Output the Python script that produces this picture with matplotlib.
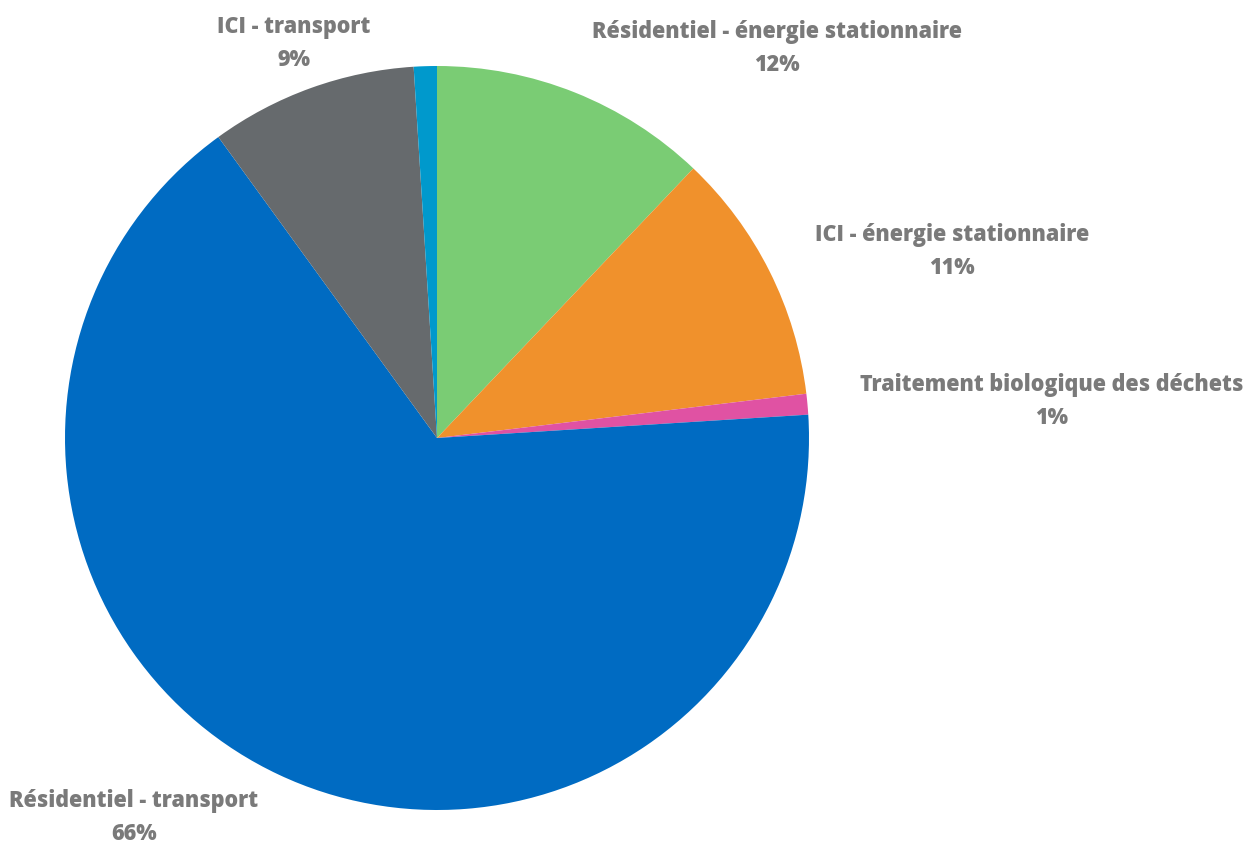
import matplotlib
matplotlib.use("Agg")
import matplotlib.pyplot as plt

# slices, clockwise from 12 o'clock
categories = ["Résidentiel - énergie stationnaire",
              "ICI - énergie stationnaire",
              "Traitement biologique des déchets",
              "Résidentiel - transport",
              "ICI - transport",
              "Autre"]
shares = [12.1, 11.0, 0.9, 66.0, 9.0, 1.0]
pct_labels = ["12%", "11%", "1%", "66%", "9%", None]
colors = ["#7acc74", "#f0912c", "#e052a3", "#006bc2", "#666a6d", "#0099cc"]

W, H = 1256, 845
cx, cy, R = 437, 439, 372  # pie centre/radius in pixels

fig = plt.figure(figsize=(W / 100, H / 100), dpi=100)
ax = fig.add_axes([0, 0, 1, 1])
ax.pie(shares, colors=colors, startangle=90, counterclock=False,
       radius=1, center=(0, 0), wedgeprops=dict(linewidth=0))
ax.set_xlim(-cx / R, (W - cx) / R)
ax.set_ylim((cy - H) / R, cy / R)
ax.set_aspect("auto")
ax.axis("off")

# label positions in pie radii (outside end, as placed in the original)
label_pos = [(0.914, 1.049), (1.384, 0.504), (1.653, 0.102),
             (-0.815, -1.018), (-0.384, 1.063), None]

for name, pct, pos in zip(categories, pct_labels, label_pos):
    if pct is None:
        continue
    ax.text(pos[0], pos[1], name + "\n" + pct, ha="center", va="center",
            fontsize=15.5, fontweight="heavy", family="Open Sans", color="#7a7a7a",
            linespacing=1.5)

fig.savefig("out.png", dpi=100)
